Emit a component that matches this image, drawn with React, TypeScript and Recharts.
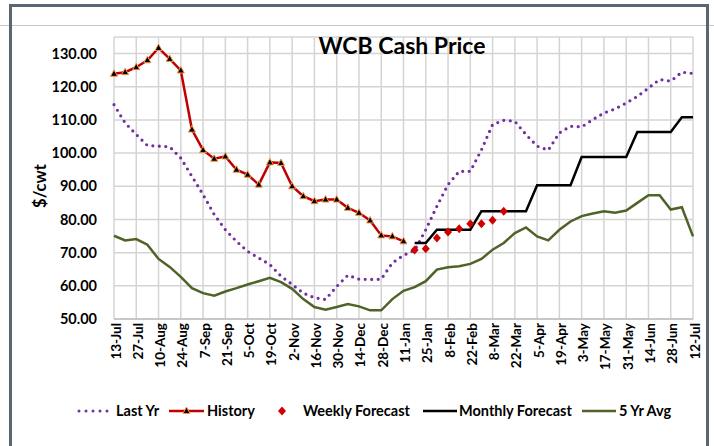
import React from "react";
import { LineChart, Line, XAxis, YAxis, CartesianGrid, Legend } from "recharts";

const FONT = "Lato, 'Noto Sans', sans-serif";

// weekly categories, 13-Jul .. 12-Jul
const weeks = [
    "13-Jul", "20-Jul", "27-Jul", "3-Aug", "10-Aug", "17-Aug", "24-Aug", "31-Aug", "7-Sep", "14-Sep",
    "21-Sep", "28-Sep", "5-Oct", "12-Oct", "19-Oct", "26-Oct", "2-Nov", "9-Nov", "16-Nov", "23-Nov",
    "30-Nov", "7-Dec", "14-Dec", "21-Dec", "28-Dec", "4-Jan", "11-Jan", "18-Jan", "25-Jan", "1-Feb",
    "8-Feb", "15-Feb", "22-Feb", "1-Mar", "8-Mar", "15-Mar", "22-Mar", "29-Mar", "5-Apr", "12-Apr",
    "19-Apr", "26-Apr", "3-May", "10-May", "17-May", "24-May", "31-May", "7-Jun", "14-Jun", "21-Jun",
    "28-Jun", "5-Jul", "12-Jul",
];

const lastYr = [
    114.6, 109.1, 105.6, 102.3, 102.1, 101.9, 98.5, 93, 87.5, 81.5,
    76.9, 73.4, 70.4, 68.4, 66.4, 62.9, 60.4, 57.8, 56.4, 55.9,
    59.8, 63.2, 62, 61.9, 62, 66.9, 69.2, 70.7, 76.9, 84,
    90.5, 94.5, 94.5, 101, 108.6, 109.9, 109.6, 105.6, 102.1, 100.9,
    106.1, 108.1, 107.9, 110.1, 112.1, 113.3, 115.1, 117.1, 119.6, 122.2,
    121.7, 124.4, 124,
];

// 13-Jul .. 11-Jan
const history = [
    123.9, 124.4, 125.9, 128, 131.7, 128.4, 124.9, 107.1, 100.9, 98.3,
    99, 95, 93.5, 90.5, 97.2, 97, 90, 87, 85.5, 86,
    86, 83.5, 82, 79.7, 75.2, 74.9, 73.4,
];

// 18-Jan .. 15-Mar
const weeklyForecast = [70.8, 71.2, 74.4, 76.2, 77.2, 78.7, 78.7, 79.8, 82.5];

// 18-Jan .. 12-Jul
const monthlyForecast = [
    72.9, 72.9, 76.9, 76.9, 76.9, 76.9, 82.5, 82.5, 82.5, 82.5,
    82.5, 90.3, 90.3, 90.3, 90.3, 98.8, 98.8, 98.8, 98.8, 98.8,
    106.4, 106.4, 106.4, 106.4, 110.8, 110.8,
];

const fiveYrAvg = [
    75.1, 73.7, 74.1, 72.4, 68.1, 65.7, 62.7, 59.3, 57.8, 57,
    58.3, 59.3, 60.4, 61.4, 62.4, 61.1, 59.1, 56, 53.6, 52.8,
    53.6, 54.5, 53.8, 52.6, 52.6, 56, 58.5, 59.6, 61.4, 64.9,
    65.6, 65.9, 66.6, 68.1, 70.9, 72.9, 75.9, 77.6, 74.9, 73.7,
    76.9, 79.4, 81, 81.8, 82.5, 82, 82.7, 85, 87.3, 87.3,
    83, 83.7, 74.9,
];

const yTicks = [50, 60, 70, 80, 90, 100, 110, 120, 130];

const FORECAST_START = 27;

const data = weeks.map((week, i) => ({
    week,
    lastYr: lastYr[i],
    history: i < history.length ? history[i] : null,
    weekly: weeklyForecast[i - FORECAST_START] ?? null,
    monthly: monthlyForecast[i - FORECAST_START] ?? null,
    avg5: fiveYrAvg[i],
}));

const PURPLE = "#7030a0";
const RED = "#c00000";
const GREEN = "#4f6228";

function Triangle({ cx, cy }: any) {
    if (cx == null || cy == null) return null;
    return <path d={`M${cx},${cy - 4} L${cx + 3.5},${cy + 2.5} L${cx - 3.5},${cy + 2.5} Z`} fill="#000" stroke="#f79646" strokeWidth={1} />;
}

function Diamond({ cx, cy }: any) {
    if (cx == null || cy == null) return null;
    return <path d={`M${cx},${cy - 4.5} L${cx + 4},${cy} L${cx},${cy + 4.5} L${cx - 4},${cy} Z`} fill="#d00000" />;
}

function WeekTick({ x, y, payload }: any) {
    return (
        <text x={x} y={y} transform={`rotate(-90, ${x}, ${y})`} textAnchor="end" dy={6.5}
            fontSize={13.5} fontWeight={700} fill="#000" fontFamily={FONT}>
            {payload.value}
        </text>
    );
}

function LegendBox() {
    const txt: React.CSSProperties = { position: "absolute", top: 0, lineHeight: "20px", fontSize: 14.5, fontWeight: 700, color: "#000", fontFamily: FONT, whiteSpace: "nowrap" };
    return (
        <div style={{ position: "relative", width: 714, height: 20 }}>
            <svg width={714} height={20} style={{ position: "absolute", left: 0, top: 0 }}>
                <line x1={79} y1={10} x2={112} y2={10} stroke={PURPLE} strokeWidth={3} strokeDasharray="0 7" strokeLinecap="round" />
                <line x1={169} y1={10} x2={204} y2={10} stroke={RED} strokeWidth={2.5} />
                <Triangle cx={186.5} cy={10} />
                <Diamond cx={282} cy={10} />
                <line x1={423} y1={10} x2={457} y2={10} stroke="#000" strokeWidth={2.5} />
                <line x1={582} y1={10} x2={616} y2={10} stroke={GREEN} strokeWidth={2.5} />
            </svg>
            <span style={{ ...txt, left: 116 }}>Last Yr</span>
            <span style={{ ...txt, left: 207 }}>History</span>
            <span style={{ ...txt, left: 303 }}>Weekly Forecast</span>
            <span style={{ ...txt, left: 459 }}>Monthly Forecast</span>
            <span style={{ ...txt, left: 619 }}>5 Yr Avg</span>
        </div>
    );
}

export default function App() {
    return (
        <div style={{ position: "absolute", left: 0, top: 0, width: 714, height: 446, background: "#fff", overflow: "hidden" }}>
            {/* frame */}
            <div style={{ position: "absolute", left: 0, top: 25, width: 714, height: 1, background: "#c8c8c8" }} />
            <div style={{ position: "absolute", left: 9, top: 4, width: 700, height: 3, background: "#5b6670" }} />
            <div style={{ position: "absolute", left: 9, top: 4, width: 3, height: 442, background: "#5b6670" }} />
            <div style={{ position: "absolute", left: 706, top: 4, width: 3, height: 442, background: "#5b6670" }} />

            <LineChart width={714} height={446} data={data} margin={{ top: 37, right: 21, left: 0, bottom: 25 }}>
                <CartesianGrid stroke="#d4d4d4" strokeWidth={1.5} />
                <XAxis dataKey="week" interval={1} tick={<WeekTick />} tickLine={false} tickSize={0} tickMargin={4}
                    height={82} stroke="#bfbfbf" strokeWidth={1.5} />
                <YAxis domain={[50, 135]} ticks={yTicks} width={114} axisLine={false} tickLine={false} tickSize={0} tickMargin={17}
                    tickFormatter={(v: number) => v.toFixed(2)}
                    tick={{ fontSize: 14.5, fontWeight: 700, fill: "#000", fontFamily: FONT }} />
                <Legend verticalAlign="bottom" content={<LegendBox />} wrapperStyle={{ left: 0, width: 714 }} />

                <Line dataKey="avg5" name="5 Yr Avg" stroke={GREEN} strokeWidth={2.5} dot={false} isAnimationActive={false} />
                <Line dataKey="lastYr" name="Last Yr" stroke={PURPLE} strokeWidth={3.2} strokeDasharray="0 6.5" strokeLinecap="round" dot={false} isAnimationActive={false} />
                <Line dataKey="monthly" name="Monthly Forecast" stroke="#000" strokeWidth={2.5} dot={false} isAnimationActive={false} />
                <Line dataKey="history" name="History" stroke={RED} strokeWidth={2.5} dot={<Triangle />} isAnimationActive={false} />
                <Line dataKey="weekly" name="Weekly Forecast" stroke="none" dot={<Diamond />} isAnimationActive={false} />
            </LineChart>

            <div style={{ position: "absolute", left: 252, top: 30, width: 300, textAlign: "center", fontFamily: FONT, fontWeight: 700, fontSize: 23, color: "#000", lineHeight: "30px" }}>
                WCB Cash Price
            </div>
            <div style={{ position: "absolute", left: 40, top: 186, transform: "translate(-50%, -50%) rotate(-90deg)", fontFamily: FONT, fontWeight: 700, fontSize: 16.5, color: "#000", whiteSpace: "nowrap" }}>
                $/cwt
            </div>
        </div>
    );
}
